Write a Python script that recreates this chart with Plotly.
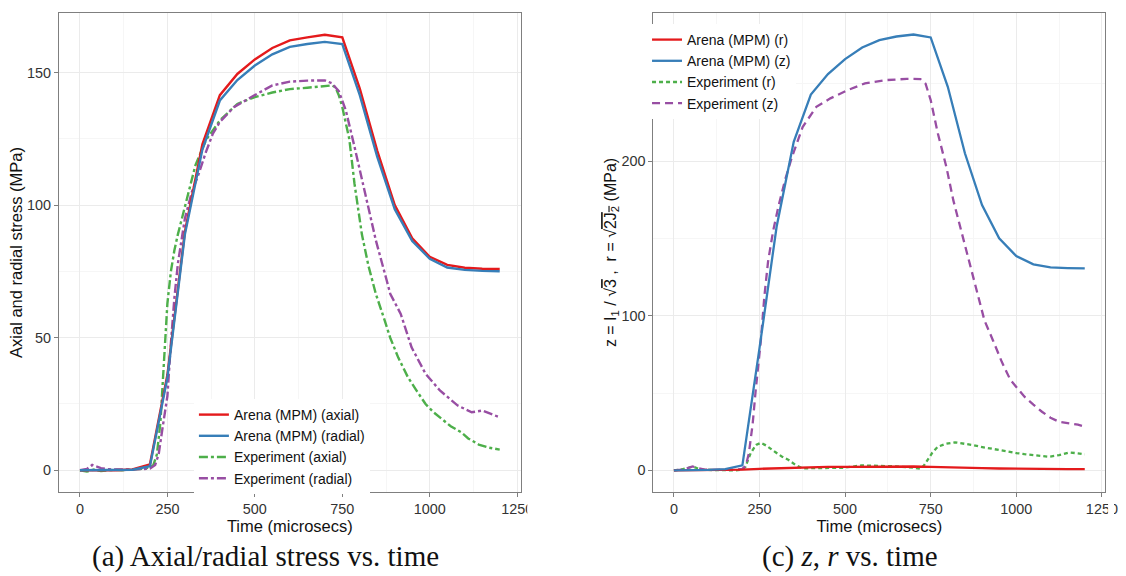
import plotly.graph_objects as go

# ---------------- data: left panel (axial / radial stress) ----------------
t_arena = [0, 50, 100, 150, 200, 250, 300, 350, 400, 450, 500, 550, 600, 650,
           700, 750, 800, 850, 900, 950, 1000, 1050, 1100, 1150, 1200]
arena_axial = [0, 0, 0, 0.3, 2.2, 36, 90, 123, 141.5, 149.5, 155, 159.3, 162.2,
               163.3, 164.3, 163.3, 144, 120.5, 100, 87.5, 80.5, 77.5, 76.4, 76.0, 75.9]
arena_radial = [0, 0, 0, 0.2, 1.5, 35, 89, 121, 139.5, 147.2, 152.7, 156.9, 159.7,
                160.8, 161.6, 160.8, 141.5, 118.2, 98.5, 86.5, 79.8, 76.5, 75.6, 75.2, 75.1]

t_exp_axial = [0, 20, 40, 60, 80, 100, 120, 140, 160, 180, 200, 210, 220, 230, 240,
               250, 260, 270, 280, 300, 330, 360, 400, 450, 500, 550, 600, 650, 700,
               720, 730, 740, 750, 760, 770, 785, 806, 825, 846, 870, 887, 910, 938,
               960, 988, 1010, 1040, 1060, 1090, 1110, 1140, 1170, 1200]
exp_axial = [0, -0.5, 0.3, -0.3, 0, 0.2, 0, 0.3, 0.4, 0.6, 1, 2, 6, 18, 42,
             63, 75, 83, 89, 99, 115, 124.5, 132, 138.2, 140.8, 142.5, 143.8, 144.3, 145,
             145.2, 144.5, 141.5, 137, 131, 125, 108, 89, 77, 66.5, 57, 50, 42.5, 35,
             30.5, 25, 22, 18.8, 16.6, 14.3, 12, 9.7, 8.5, 7.8]

t_exp_radial = [0, 20, 35, 45, 60, 80, 100, 150, 200, 215, 225, 235, 245, 250, 260,
                270, 280, 300, 320, 340, 360, 380, 400, 440, 490, 550, 600, 650, 700,
                720, 740, 760, 785, 816, 846, 877, 887, 917, 948, 988, 1029, 1080,
                1120, 1150, 1170, 1200]
exp_radial = [0, 0.5, 2, 1.5, 0.8, 0.5, 0.3, 0.3, 0.6, 2, 6, 15, 24, 28, 48,
              65, 78, 95, 105, 112, 120, 127, 131.4, 137, 140.8, 145.2, 146.6, 147, 147.1,
              146, 143, 135.8, 122, 104.3, 86.7, 71.6, 66.6, 59, 46.4, 36.4, 30.1, 24.4,
              21.9, 22.5, 21.5, 20]

# ---------------- data: right panel (z, r) ----------------
arena_r = [0, 0.1, 0.2, 0.3, 0.5, 1.0, 1.4, 1.7, 2.0, 2.2, 2.3, 2.4, 2.5, 2.5, 2.5,
           2.3, 1.9, 1.6, 1.4, 1.2, 1.0, 0.9, 0.8, 0.8, 0.8]
arena_z = [0, 0, 0.3, 0.8, 3.2, 79, 157.5, 212.4, 243, 256.2, 265.9, 273.4, 278.2,
           280.5, 281.8, 279.9, 248, 205, 171.5, 150, 138.5, 133.2, 131.2, 130.8, 130.6]

t_exp_z = [0, 20, 40, 55, 70, 90, 120, 150, 180, 200, 210, 219, 230, 239, 247, 254,
           264, 275, 290, 305, 325, 345, 376, 416, 457, 507, 558, 619, 680, 720, 735,
           750, 771, 796, 816, 841, 867, 892, 907, 932, 958, 983, 1004, 1024, 1050,
           1075, 1100, 1125, 1155, 1180, 1200]
exp_z = [0, 0.5, 1.5, 2.5, 1.5, 0.5, 0.3, 0.3, 0.5, 1, 3, 11, 30, 52, 70, 84,
         112, 135, 155, 170.4, 188, 202.7, 222, 235, 240.5, 245.8, 250.2, 252.3, 253.1, 253, 250,
         239.4, 217.8, 196, 174.7, 153.2, 131.6, 110, 97, 84, 70, 58.4, 52.5, 47.6, 42.5,
         37.9, 34, 31.4, 30.4, 29.5, 28.2]

t_exp_r = [0, 20, 40, 55, 70, 90, 120, 150, 180, 200, 209, 224, 240, 254, 270, 295,
           315, 335, 355, 376, 416, 460, 497, 548, 600, 650, 700, 720, 730, 740, 755,
           771, 795, 821, 845, 872, 897, 922, 948, 973, 1000, 1024, 1060, 1095, 1125,
           1155, 1180, 1200]
exp_r = [0, 0.5, 1.5, 2.5, 1.2, 0.3, 0.2, 0.2, 0, 0.5, 2.3, 11, 16.5, 17.8, 16, 12,
         9, 6.7, 3.5, 1.3, 1.3, 1.5, 1.7, 3.2, 3, 2.6, 1.7, 1, 3, 6.7, 11.5,
         15.3, 17.2, 18.1, 17.5, 16.4, 15.2, 14.2, 13, 12, 11.2, 10.5, 9.5, 8.8, 9.8,
         11.6, 11, 10.3]

RED, BLUE, GREEN, PURPLE = "#E41A1C", "#377EB8", "#4DAF4A", "#984EA3"
SANS = "Liberation Sans, Arial, sans-serif"
SERIF = "Liberation Serif, Times New Roman, serif"

fig = go.Figure()

# left panel: experiments drawn first, arena on top; legend order via legendrank
fig.add_trace(go.Scatter(x=t_exp_axial, y=exp_axial, mode="lines", name="Experiment (axial)",
                         line=dict(color=GREEN, width=2.4, dash="dashdot"),
                         xaxis="x", yaxis="y", legend="legend", legendrank=3))
fig.add_trace(go.Scatter(x=t_exp_radial, y=exp_radial, mode="lines", name="Experiment (radial)",
                         line=dict(color=PURPLE, width=2.4, dash="dashdot"),
                         xaxis="x", yaxis="y", legend="legend", legendrank=4))
fig.add_trace(go.Scatter(x=t_arena, y=arena_axial, mode="lines", name="Arena (MPM) (axial)",
                         line=dict(color=RED, width=2.4),
                         xaxis="x", yaxis="y", legend="legend", legendrank=1))
fig.add_trace(go.Scatter(x=t_arena, y=arena_radial, mode="lines", name="Arena (MPM) (radial)",
                         line=dict(color=BLUE, width=2.4),
                         xaxis="x", yaxis="y", legend="legend", legendrank=2))

# right panel
fig.add_trace(go.Scatter(x=t_exp_r, y=exp_r, mode="lines", name="Experiment (r)",
                         line=dict(color=GREEN, width=2.3, dash="4px,3px"),
                         xaxis="x2", yaxis="y2", legend="legend2", legendrank=3))
fig.add_trace(go.Scatter(x=t_exp_z, y=exp_z, mode="lines", name="Experiment (z)",
                         line=dict(color=PURPLE, width=2.3, dash="8px,5px"),
                         xaxis="x2", yaxis="y2", legend="legend2", legendrank=4))
fig.add_trace(go.Scatter(x=t_arena, y=arena_r, mode="lines", name="Arena (MPM) (r)",
                         line=dict(color=RED, width=2.3),
                         xaxis="x2", yaxis="y2", legend="legend2", legendrank=1))
fig.add_trace(go.Scatter(x=t_arena, y=arena_z, mode="lines", name="Arena (MPM) (z)",
                         line=dict(color=BLUE, width=2.3),
                         xaxis="x2", yaxis="y2", legend="legend2", legendrank=2))

W, H = 1126, 576
ydom = [1 - 492 / H, 1 - 13 / H]

def xax(domain, anchor):
    return dict(domain=domain, anchor=anchor, range=[-60, 1260],
                tickvals=[0, 250, 500, 750, 1000, 1250],
                ticks="outside", ticklen=4, tickcolor="#7F7F7F", tickwidth=1,
                showgrid=True, gridcolor="#EBEBEB", gridwidth=1,
                minor=dict(dtick=125, tick0=125, showgrid=True, gridcolor="#F6F6F6",
                           gridwidth=1, ticks=""),
                showline=True, linecolor="#7F7F7F", linewidth=1, mirror=True,
                zeroline=False,
                tickfont=dict(family=SANS, size=14.4, color="#333333"),
                title=dict(text="Time (microsecs)", standoff=0,
                           font=dict(family=SANS, size=16.5, color="#111111")))

def yax(domain, anchor, rng, tickvals, minor_dtick, title, size):
    return dict(domain=domain, anchor=anchor, range=rng, tickvals=tickvals,
                ticks="outside", ticklen=4, tickcolor="#7F7F7F", tickwidth=1,
                showgrid=True, gridcolor="#EBEBEB", gridwidth=1,
                minor=dict(dtick=minor_dtick, showgrid=True, gridcolor="#F6F6F6",
                           gridwidth=1, ticks=""),
                showline=True, linecolor="#7F7F7F", linewidth=1, mirror=True,
                zeroline=False,
                tickfont=dict(family=SANS, size=14.4, color="#333333"),
                title=dict(text=title, standoff=0,
                           font=dict(family=SANS, size=size, color="#111111")))

ytitle2 = ("z = I<sub>1</sub> / √<span style='text-decoration:overline'>3</span> ,  "
           "r = √<span style='text-decoration:overline'>2J<sub>2</sub></span> (MPa)")

fig.update_layout(
    width=W, height=H,
    margin=dict(l=0, r=0, t=0, b=0),
    paper_bgcolor="white", plot_bgcolor="white",
    xaxis=xax([59.6 / W, 526.3 / W], "y"),
    yaxis=yax(ydom, "x", [-8.2, 172.5], [0, 50, 100, 150], 25,
              "Axial and radial stress (MPa)", 16.5),
    xaxis2=xax([660.4 / W, 1117.2 / W], "y2"),
    yaxis2=yax(ydom, "x2", [-14, 295.7], [0, 100, 200], 50, ytitle2, 16),
    legend=dict(x=196 / W, y=1 - 399 / H, xanchor="left", yanchor="top",
                bgcolor="white", borderwidth=0, itemwidth=30,
                font=dict(family=SANS, size=14, color="#111111"),
                tracegroupgap=0),
    legend2=dict(x=654 / W, y=1 - 24 / H, xanchor="left", yanchor="top",
                 bgcolor="white", borderwidth=0, itemwidth=30,
                 font=dict(family=SANS, size=14, color="#111111"),
                 tracegroupgap=0),
    showlegend=True,
    shapes=[
        dict(type="rect", xref="paper", yref="paper", layer="above",
             x0=533 / W, x1=580 / W, y0=1 - 515 / H, y1=1 - 494 / H,
             fillcolor="white", line=dict(width=0)),
        dict(type="rect", xref="paper", yref="paper", layer="above",
             x0=1120 / W, x1=1.0, y0=1 - 515 / H, y1=1 - 494 / H,
             fillcolor="white", line=dict(width=0)),
    ],
    annotations=[
        dict(text="(a) Axial/radial stress vs. time", xref="paper", yref="paper",
             x=268 / W, y=1 - 556 / H, xanchor="center", yanchor="middle", showarrow=False,
             font=dict(family=SERIF, size=29, color="#111111")),
        dict(text="(c) <i>z</i>, <i>r</i> vs. time", xref="paper", yref="paper",
             x=859 / W, y=1 - 556 / H, xanchor="center", yanchor="middle", showarrow=False,
             font=dict(family=SERIF, size=29, color="#111111")),
    ],
)

fig.write_html("out.html")
